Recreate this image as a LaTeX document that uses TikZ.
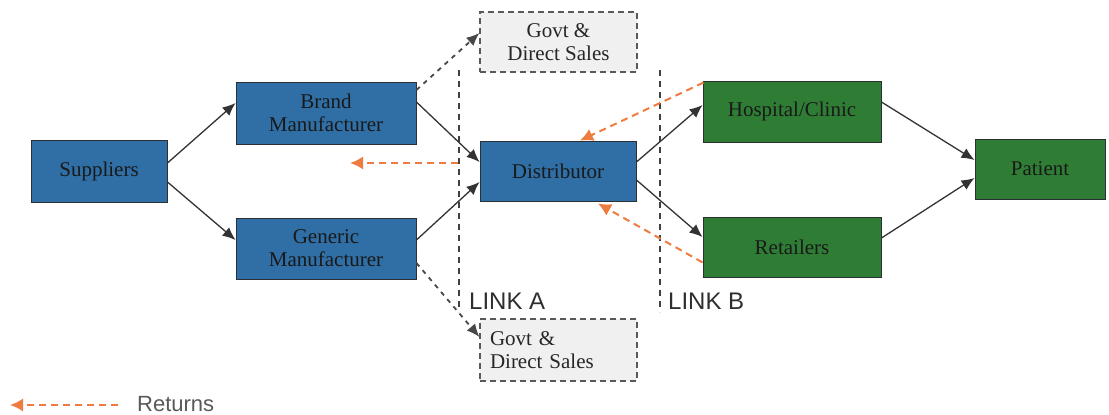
\documentclass[tikz,border=0pt]{standalone}
\usepackage{fontspec}
\setmainfont{Liberation Serif}
\setsansfont{Liberation Sans}
\usetikzlibrary{arrows.meta,positioning}

\definecolor{boxblue}{HTML}{2F6FA6}
\definecolor{boxgreen}{HTML}{2F7D35}
\definecolor{edgedark}{HTML}{2B2F36}
\definecolor{flowgrey}{HTML}{333333}
\definecolor{retorange}{HTML}{EE7B3F}
\definecolor{salesfill}{HTML}{F0F0F0}
\definecolor{labelgrey}{HTML}{2E2E2E}

\tikzset{
  stage/.style={draw=edgedark, line width=0.9pt, align=center, inner sep=0pt,
    text=black!90, font=\fontsize{21}{23}\selectfont},
  bluebox/.style={stage, fill=boxblue},
  greenbox/.style={stage, fill=boxgreen},
  salesbox/.style={draw=black!65, fill=salesfill, line width=1.1pt,
    dash pattern=on 6pt off 4pt, inner sep=0pt, text=black!85,
    font=\fontsize{21}{23}\selectfont},
  flow/.style={draw=flowgrey, line width=1.3pt,
    -{Latex[length=13pt,width=11pt]}},
  sideflow/.style={draw=flowgrey!90, line width=1.8pt,
    dash pattern=on 4.5pt off 5pt, -{Latex[length=13pt,width=11pt]}},
  returnflow/.style={draw=retorange, line width=2pt,
    dash pattern=on 7pt off 5pt, -{Latex[length=13pt,width=13pt]}},
  linkline/.style={draw=black!75, line width=1.2pt, dash pattern=on 6pt off 5pt},
  linklabel/.style={font=\sffamily\fontsize{24}{24}\selectfont, text=labelgrey,
    inner sep=0pt, anchor=base west},
}

\begin{document}
\begin{tikzpicture}[x=1pt, y=-1pt]
  \useasboundingbox (0,0) rectangle (1109,415);

  % supply chain stages
  \node[bluebox, minimum width=136pt, minimum height=62pt] (sup) at (99,171) {Suppliers};
  \node[bluebox, minimum width=180pt, minimum height=62pt] (brand) at (326,113) {Brand\\Manufacturer};
  \node[bluebox, minimum width=180pt, minimum height=61pt] (gen) at (326,248.5) {Generic\\Manufacturer};
  \node[bluebox, minimum width=156pt, minimum height=60pt] (dist) at (558,171) {Distributor};
  \node[greenbox, minimum width=178pt, minimum height=61pt] (hosp) at (792,111.5) {Hospital/Clinic};
  \node[greenbox, minimum width=178pt, minimum height=60pt] (ret) at (792,247) {Retailers};
  \node[greenbox, minimum width=130pt, minimum height=60pt] (pat) at (1040,169) {Patient};

  % direct sales outlets
  \node[salesbox, minimum width=157pt, minimum height=60pt, align=center] (govtA) at (558.5,42) {Govt \&\\Direct Sales};
  \node[salesbox, minimum width=157pt, minimum height=62pt, align=left,
    text width=137pt] (govtB) at (558.5,350) {Govt \&\\Direct Sales};

  % link boundaries
  \coordinate (linkAtop) at (459,70);
  \coordinate (linkAbot) at (459,312);
  \coordinate (linkBtop) at (660,70);
  \coordinate (linkBbot) at (660,312);
  \draw[linkline] (linkAtop) -- (linkAbot);
  \draw[linkline] (linkBtop) -- (linkBbot);
  \node[linklabel] (linkA) at (469,309) {LINK A};
  \node[linklabel] (linkB) at (668,309) {LINK B};

  % product flow
  \draw[flow] ([yshift=8pt]sup.east) -- ([yshift=10pt]brand.west);
  \draw[flow] ([yshift=-11pt]sup.east) -- ([yshift=8.5pt]gen.west);
  \draw[flow] ([yshift=11pt]brand.east) -- ([yshift=9pt]dist.west);
  \draw[flow] ([yshift=8.5pt]gen.east) -- ([yshift=-11pt]dist.west);
  \draw[flow] ([yshift=9pt]dist.east) -- ([yshift=6.5pt]hosp.west);
  \draw[flow] ([yshift=-9pt]dist.east) -- ([yshift=10pt]ret.west);
  \draw[flow] ([yshift=9.5pt]hosp.east) -- ([yshift=9pt]pat.west);
  \draw[flow] ([yshift=9pt]ret.east) -- ([yshift=-9pt]pat.west);

  % sales outside the distributor
  \draw[sideflow] ([yshift=23pt]brand.east) -- ([yshift=9pt]govtA.west);
  \draw[sideflow] ([yshift=-14.5pt]gen.east) -- ([yshift=13pt]govtB.west);

  % returns
  \coordinate (retStart) at (458,163);
  \coordinate (retEnd) at (350,163);
  \draw[returnflow] ([xshift=1pt,yshift=-2pt]hosp.north west) -- ([xshift=22pt]dist.north);
  \draw[returnflow] ([yshift=15pt]ret.south west) -- ([xshift=40pt,yshift=-2pt]dist.south);
  \draw[returnflow] (retStart) -- (retEnd);

  % legend
  \coordinate (legStart) at (118,405);
  \coordinate (legEnd) at (10,405);
  \draw[returnflow] (legStart) -- (legEnd);
  \node[font=\sffamily\fontsize{22}{22}\selectfont, text=black!65, anchor=west,
    inner sep=0pt] (legtext) at (137,404) {Returns};
\end{tikzpicture}
\end{document}
